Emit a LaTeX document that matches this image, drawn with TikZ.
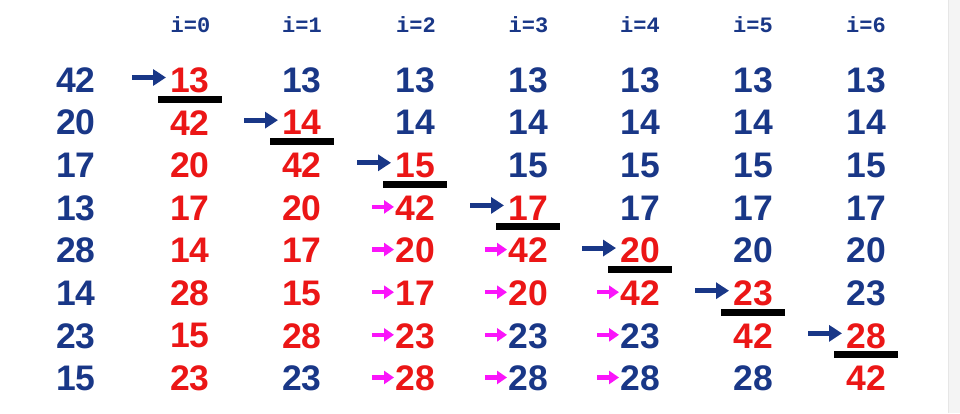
\documentclass[tikz,border=0pt]{standalone}
\usepackage{fontspec}
\setmainfont{Liberation Sans}
\newfontfamily\hdrfont{Liberation Mono}
\usetikzlibrary{arrows.meta}
\definecolor{nb}{RGB}{25,55,135}
\definecolor{nr}{RGB}{235,22,22}
\definecolor{nm}{RGB}{250,20,250}
\definecolor{stripgray}{RGB}{244,244,244}
\definecolor{stripline}{RGB}{230,230,230}
\tikzset{
  num/.style={inner sep=0pt, anchor=center, font=\fontsize{35.5}{40}\selectfont\bfseries},
  hdr/.style={inner sep=0pt, anchor=base, text=nb, font=\hdrfont\fontsize{22}{24}\selectfont\bfseries},
  minbar/.style={line width=7pt, black},
  selarrow/.style={nb, line width=5pt, -{Triangle[length=13pt,width=16pt]}},
  movarrow/.style={nm, line width=4.5pt, -{Triangle[length=10pt,width=13pt]}}
}
\begin{document}
\begin{tikzpicture}[x=1pt,y=-1pt]
\useasboundingbox (0,0) rectangle (960,413);
\fill[white] (0,0) rectangle (960,413);
\fill[stripgray] (948,0) rectangle (960,413);
\draw[stripline, line width=1pt] (948.5,0) -- (948.5,413);
% headers
\foreach \t/\x [count=\k from 0] in {i=0/190.5,i=1/302,i=2/416,i=3/528.5,i=4/640,i=5/753,i=6/866}
  \node[hdr] (h\k) at (\x,32) {\t};
% columns
\foreach \v/\c [count=\r from 0] in {42/nb,20/nb,17/nb,13/nb,28/nb,14/nb,23/nb,15/nb}
  \node[num, text=\c] (nL-\r) at (76,{80+42.64*\r}) {\v};
\foreach \v/\c [count=\r from 0] in {13/nr,42/nr,20/nr,17/nr,14/nr,28/nr,15/nr,23/nr}
  \node[num, text=\c] (n0-\r) at (190,{80+42.64*\r}) {\v};
\foreach \v/\c [count=\r from 0] in {13/nb,14/nr,42/nr,20/nr,17/nr,15/nr,28/nr,23/nb}
  \node[num, text=\c] (n1-\r) at (302,{80+42.64*\r}) {\v};
\foreach \v/\c [count=\r from 0] in {13/nb,14/nb,15/nr,42/nr,20/nr,17/nr,23/nr,28/nr}
  \node[num, text=\c] (n2-\r) at (415,{80+42.64*\r}) {\v};
\foreach \v/\c [count=\r from 0] in {13/nb,14/nb,15/nb,17/nr,42/nr,20/nr,23/nb,28/nb}
  \node[num, text=\c] (n3-\r) at (528,{80+42.64*\r}) {\v};
\foreach \v/\c [count=\r from 0] in {13/nb,14/nb,15/nb,17/nb,20/nr,42/nr,23/nb,28/nb}
  \node[num, text=\c] (n4-\r) at (640,{80+42.64*\r}) {\v};
\foreach \v/\c [count=\r from 0] in {13/nb,14/nb,15/nb,17/nb,20/nb,23/nr,42/nr,28/nb}
  \node[num, text=\c] (n5-\r) at (753,{80+42.64*\r}) {\v};
\foreach \v/\c [count=\r from 0] in {13/nb,14/nb,15/nb,17/nb,20/nb,23/nb,28/nr,42/nr}
  \node[num, text=\c] (n6-\r) at (866,{80+42.64*\r}) {\v};
% minimum bars and selection arrows
\foreach \k in {0,...,6} {
  \draw[minbar] ([shift={(-32,19)}]n\k-\k.center) -- ([shift={(32,19)}]n\k-\k.center);
  \coordinate (s\k) at ([shift={(-58,-2.5)}]n\k-\k.center);
  \coordinate (e\k) at ([shift={(-24,-2.5)}]n\k-\k.center);
  \draw[selarrow] (s\k) -- (e\k);
}
% shifted-element arrows
\foreach \k/\r in {2/3,2/4,2/5,2/6,2/7,3/4,3/5,3/6,3/7,4/5,4/6,4/7} {
  \coordinate (ms\k\r) at ([shift={(-43,-1)}]n\k-\r.center);
  \coordinate (me\k\r) at ([shift={(-21,-1)}]n\k-\r.center);
  \draw[movarrow] (ms\k\r) -- (me\k\r);
}
\end{tikzpicture}
\end{document}
